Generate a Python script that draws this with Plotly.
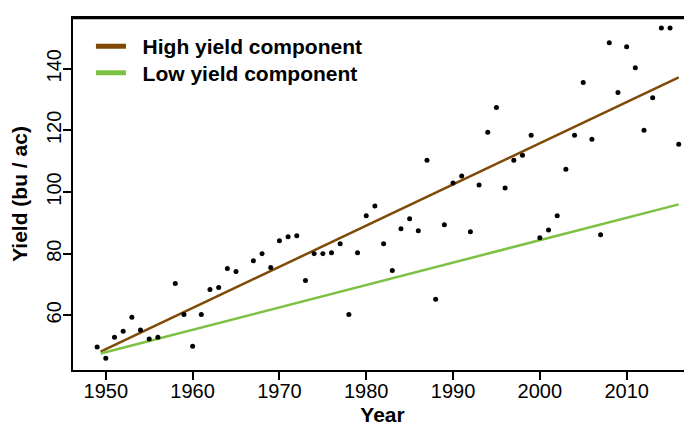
import plotly.graph_objects as go

years = [1949, 1950, 1951, 1952, 1953, 1954, 1955, 1956, 1958, 1959, 1960, 1961,
         1962, 1963, 1964, 1965, 1967, 1968, 1969, 1970, 1971, 1972, 1973, 1974,
         1975, 1976, 1977, 1978, 1979, 1980, 1981, 1982, 1983, 1984, 1985, 1986,
         1987, 1988, 1989, 1990, 1991, 1992, 1993, 1994, 1995, 1996, 1997, 1998,
         1999, 2000, 2001, 2002, 2003, 2004, 2005, 2006, 2007, 2008, 2009, 2010,
         2011, 2012, 2013, 2014, 2015, 2016]
yields = [49.7, 46.1, 52.9, 54.8, 59.4, 55.2, 52.3, 52.9, 70.3, 60.3, 50.0, 60.3,
          68.4, 69.0, 75.2, 74.2, 77.7, 80.0, 75.5, 84.2, 85.5, 85.8, 71.3, 80.0,
          80.0, 80.3, 83.2, 60.3, 80.3, 92.3, 95.5, 83.2, 74.5, 88.1, 91.3, 87.4,
          110.3, 65.2, 89.4, 102.9, 105.2, 87.1, 102.3, 119.4, 127.4, 101.3, 110.3, 111.9,
          118.4, 85.2, 87.7, 92.3, 107.4, 118.4, 135.5, 117.1, 86.1, 148.4, 132.3, 147.1,
          140.3, 120.0, 130.6, 153.2, 153.2, 115.5]

comp_years = [1949.4, 2016.0]
high_component = [48.2, 137.2]
low_component = [47.6, 96.0]

x_ticks = [1950, 1960, 1970, 1980, 1990, 2000, 2010]
y_ticks = [60, 80, 100, 120, 140]

BROWN = "#7F4A05"
GREEN = "#7CC143"
FONT = "Liberation Sans, Arial, Helvetica, sans-serif"
NB = "\u00a0\u00a0"

fig = go.Figure()
fig.add_trace(go.Scatter(x=comp_years, y=high_component, mode="lines",
                         line=dict(color=BROWN, width=2.5), showlegend=False))
fig.add_trace(go.Scatter(x=comp_years, y=low_component, mode="lines",
                         line=dict(color=GREEN, width=2.5), showlegend=False))
fig.add_trace(go.Scatter(x=years, y=yields, mode="markers",
                         marker=dict(color="black", size=5), showlegend=False))
# legend entries
fig.add_trace(go.Scatter(x=[None], y=[None], mode="lines", name=NB + "High yield component",
                         line=dict(color=BROWN, width=5), legend="legend"))
fig.add_trace(go.Scatter(x=[None], y=[None], mode="lines", name=NB + "Low yield component",
                         line=dict(color=GREEN, width=5), legend="legend2"))

# top border of the plot box
fig.add_shape(type="line", xref="paper", yref="paper", x0=0, x1=1, y0=1, y1=1,
              line=dict(color="black", width=2.5), layer="above")

leg_font = dict(family=FONT, size=21, color="black", weight="bold")
fig.update_layout(
    width=692, height=426,
    margin=dict(l=62, r=8, t=8, b=64),
    paper_bgcolor="white", plot_bgcolor="white",
    font=dict(family=FONT, color="black", size=20),
    legend=dict(x=0.029, y=0.977, xanchor="left", yanchor="top",
                font=leg_font, bgcolor="rgba(0,0,0,0)", itemwidth=30),
    legend2=dict(x=0.029, y=0.902, xanchor="left", yanchor="top",
                 font=leg_font, bgcolor="rgba(0,0,0,0)", itemwidth=30),
    xaxis=dict(range=[1946.22, 2017.53], tickvals=x_ticks, ticks="outside",
               ticklen=8, tickwidth=2, tickcolor="black", showline=True,
               linewidth=2, linecolor="black", mirror=True, showgrid=False,
               zeroline=False, tickfont=dict(size=20), ticklabelstandoff=-6,
               title=dict(text="<b>Year</b>", font=dict(size=21), standoff=6)),
    yaxis=dict(range=[42.26, 156.45], tickvals=y_ticks, ticks="outside",
               ticklen=8, tickwidth=2, tickcolor="black", showline=True,
               linewidth=2, linecolor="black", mirror=False, showgrid=False,
               zeroline=False, tickangle=-90, tickfont=dict(size=20),
               ticklabelstandoff=-6,
               title=dict(text="<b>Yield (bu / ac)</b>", font=dict(size=21), standoff=12)),
)

fig.write_html("out.html")
